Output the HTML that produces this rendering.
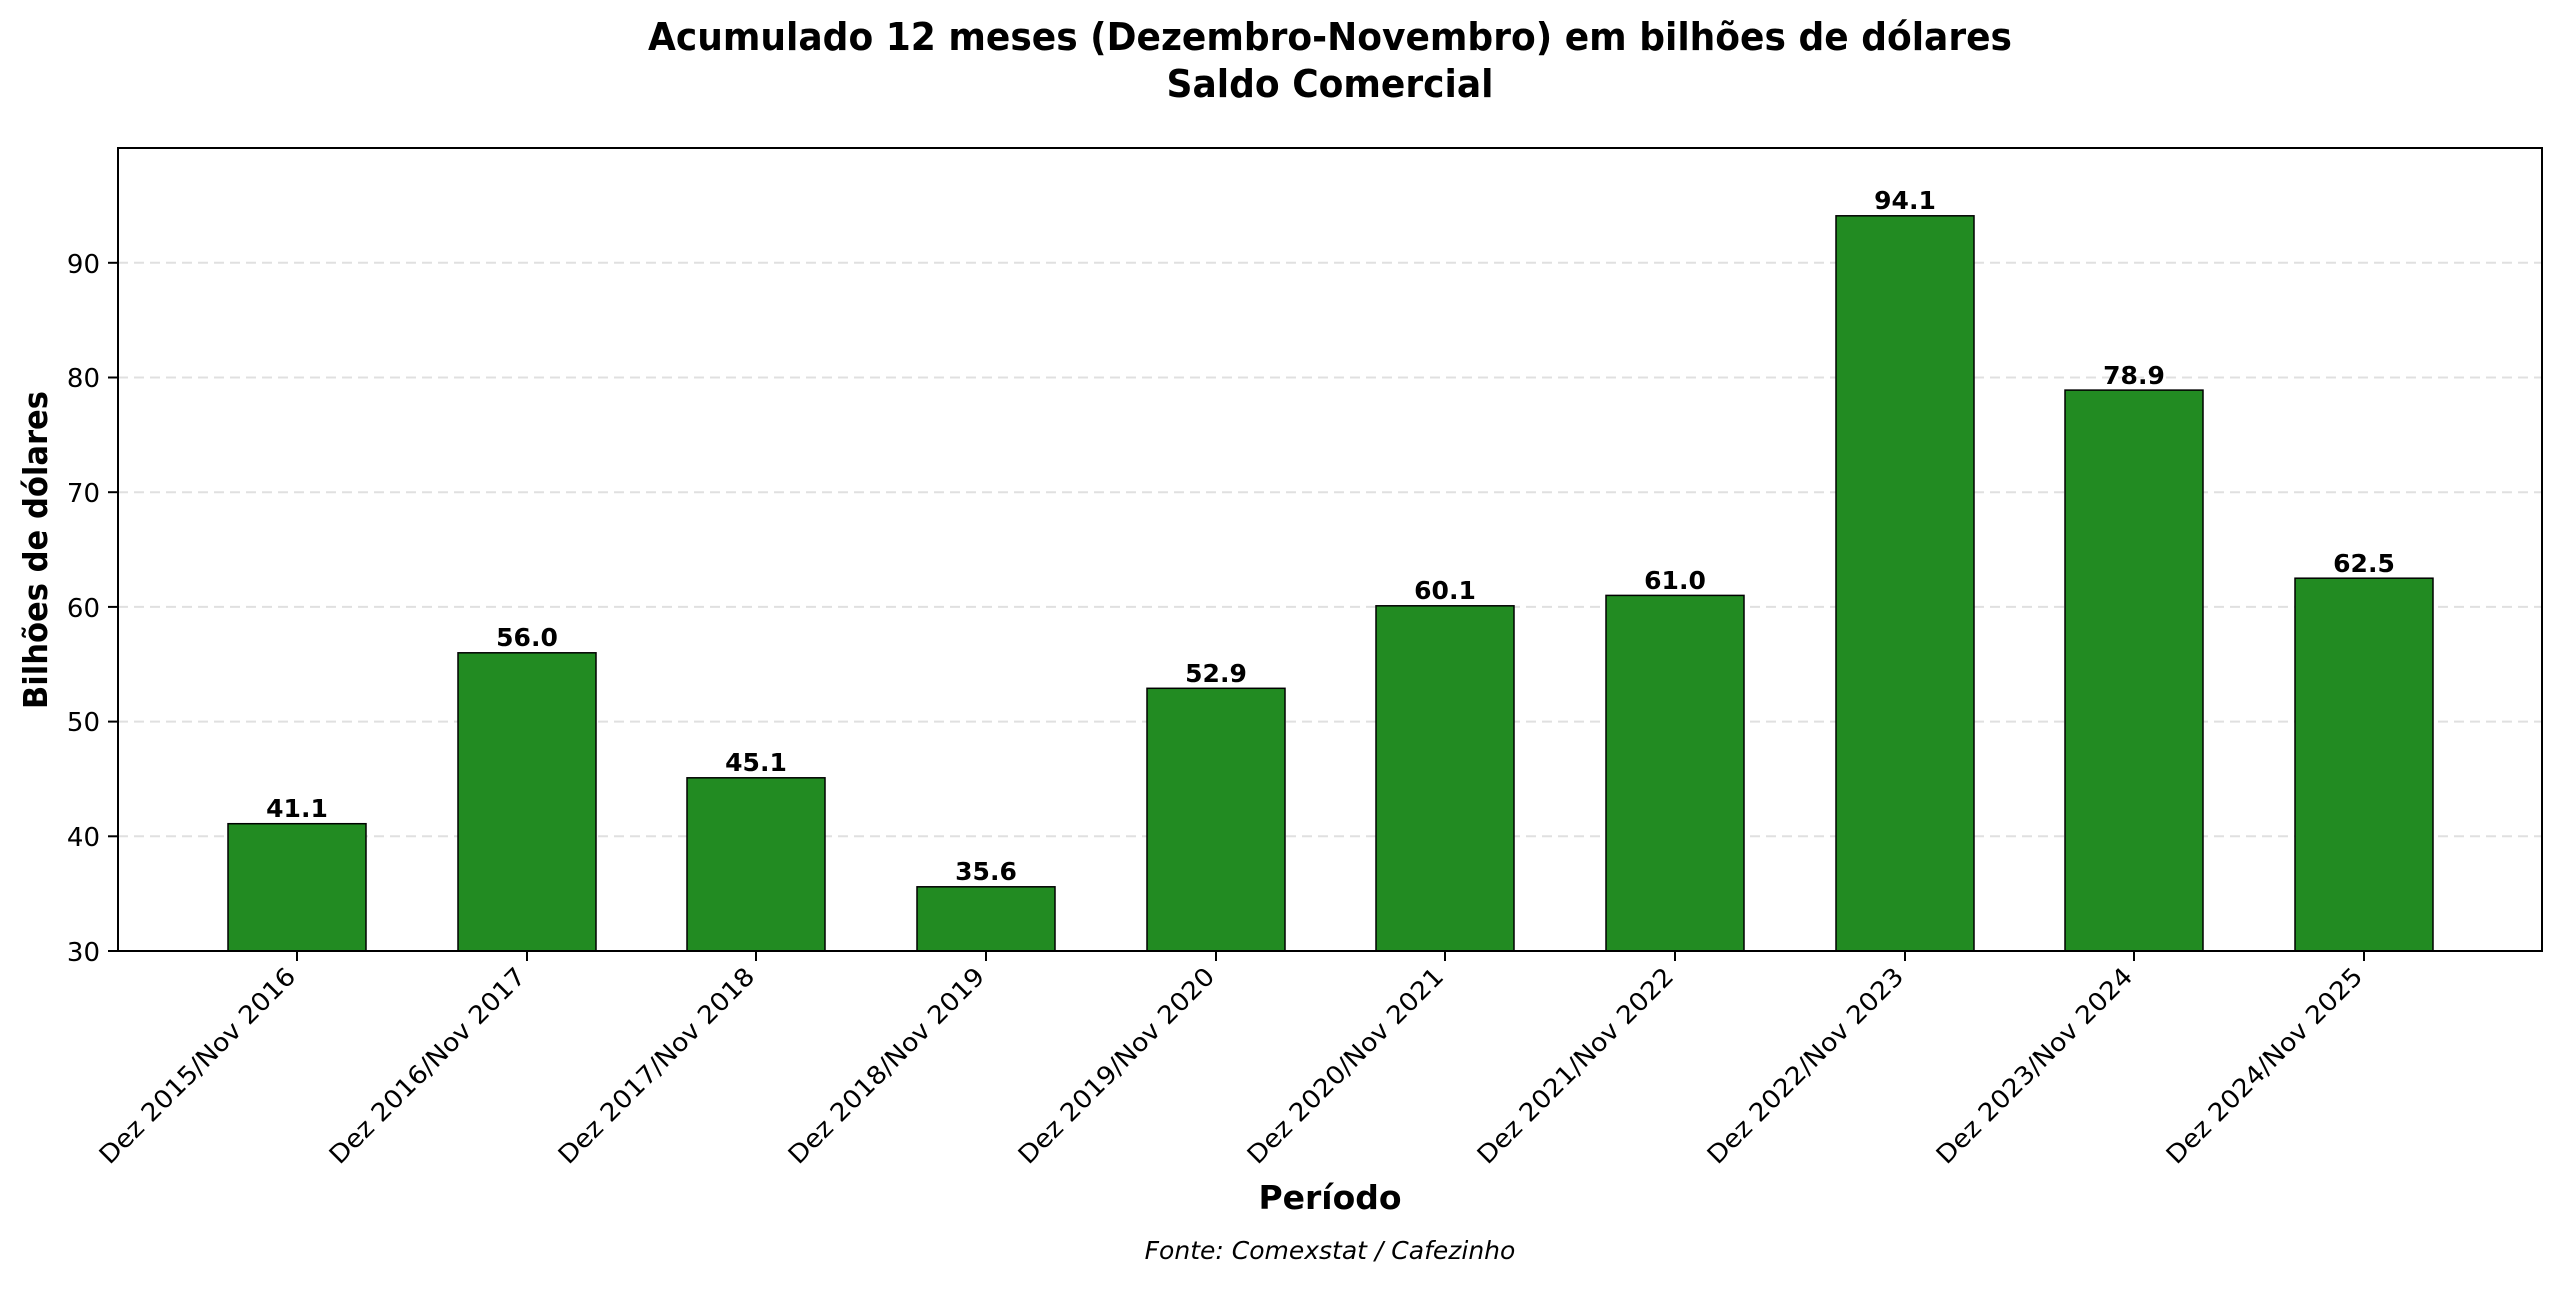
<!DOCTYPE html>
<html><head><meta charset="utf-8"><style>body{margin:0;background:#fff}</style></head><body>
<svg width="2560" height="1284" xmlns="http://www.w3.org/2000/svg" font-family="'DejaVu Sans','Liberation Sans',sans-serif">
<rect width="2560" height="1284" fill="#fff"/>
<text x="1330" y="50" font-size="38" font-weight="bold" text-anchor="middle" textLength="1364" lengthAdjust="spacingAndGlyphs">Acumulado 12 meses (Dezembro-Novembro) em bilhões de dólares</text>
<text x="1330" y="97" font-size="38" font-weight="bold" text-anchor="middle" textLength="327" lengthAdjust="spacingAndGlyphs">Saldo Comercial</text>
<g stroke="#e0e0e0" stroke-width="2" stroke-dasharray="10,6">
<line x1="118" x2="2542" y1="836.3" y2="836.3"/><line x1="118" x2="2542" y1="721.6" y2="721.6"/><line x1="118" x2="2542" y1="606.9" y2="606.9"/><line x1="118" x2="2542" y1="492.2" y2="492.2"/><line x1="118" x2="2542" y1="377.5" y2="377.5"/><line x1="118" x2="2542" y1="262.8" y2="262.8"/>
</g>
<g fill="#228B22" stroke="#000" stroke-width="1.5">
<rect x="228" y="823.7" width="138" height="127.3"/>
<rect x="458" y="652.8" width="138" height="298.2"/>
<rect x="687" y="777.8" width="138" height="173.2"/>
<rect x="917" y="886.8" width="138" height="64.2"/>
<rect x="1147" y="688.3" width="138" height="262.7"/>
<rect x="1376" y="605.8" width="138" height="345.2"/>
<rect x="1606" y="595.4" width="138" height="355.6"/>
<rect x="1836" y="215.8" width="138" height="735.2"/>
<rect x="2065" y="390.1" width="138" height="560.9"/>
<rect x="2295" y="578.2" width="138" height="372.8"/>
</g>
<g font-size="25" font-weight="bold" text-anchor="middle">
<text x="297" y="817">41.1</text><text x="527" y="646">56.0</text><text x="756" y="771">45.1</text><text x="986" y="880">35.6</text><text x="1216" y="682">52.9</text><text x="1445" y="599">60.1</text><text x="1675" y="589">61.0</text><text x="1905" y="209">94.1</text><text x="2134" y="384">78.9</text><text x="2364" y="572">62.5</text>
</g>
<rect x="118" y="148" width="2424" height="803" fill="none" stroke="#000" stroke-width="2"/>
<g stroke="#000" stroke-width="2">
<line x1="108" x2="118" y1="951" y2="951"/><line x1="108" x2="118" y1="836.3" y2="836.3"/><line x1="108" x2="118" y1="721.6" y2="721.6"/><line x1="108" x2="118" y1="606.9" y2="606.9"/><line x1="108" x2="118" y1="492.2" y2="492.2"/><line x1="108" x2="118" y1="377.5" y2="377.5"/><line x1="108" x2="118" y1="262.8" y2="262.8"/>
<line x1="297" x2="297" y1="951" y2="961"/><line x1="527" x2="527" y1="951" y2="961"/><line x1="756" x2="756" y1="951" y2="961"/><line x1="986" x2="986" y1="951" y2="961"/><line x1="1216" x2="1216" y1="951" y2="961"/><line x1="1445" x2="1445" y1="951" y2="961"/><line x1="1675" x2="1675" y1="951" y2="961"/><line x1="1905" x2="1905" y1="951" y2="961"/><line x1="2134" x2="2134" y1="951" y2="961"/><line x1="2364" x2="2364" y1="951" y2="961"/>
</g>
<g font-size="26" text-anchor="end">
<text x="100" y="961">30</text><text x="100" y="846">40</text><text x="100" y="731">50</text><text x="100" y="617">60</text><text x="100" y="502">70</text><text x="100" y="387">80</text><text x="100" y="273">90</text>
</g>
<g font-size="25" text-anchor="end">
<text transform="translate(297,978) rotate(-45)" textLength="265" lengthAdjust="spacingAndGlyphs">Dez 2015/Nov 2016</text>
<text transform="translate(527,978) rotate(-45)" textLength="265" lengthAdjust="spacingAndGlyphs">Dez 2016/Nov 2017</text>
<text transform="translate(756,978) rotate(-45)" textLength="265" lengthAdjust="spacingAndGlyphs">Dez 2017/Nov 2018</text>
<text transform="translate(986,978) rotate(-45)" textLength="265" lengthAdjust="spacingAndGlyphs">Dez 2018/Nov 2019</text>
<text transform="translate(1216,978) rotate(-45)" textLength="265" lengthAdjust="spacingAndGlyphs">Dez 2019/Nov 2020</text>
<text transform="translate(1445,978) rotate(-45)" textLength="265" lengthAdjust="spacingAndGlyphs">Dez 2020/Nov 2021</text>
<text transform="translate(1675,978) rotate(-45)" textLength="265" lengthAdjust="spacingAndGlyphs">Dez 2021/Nov 2022</text>
<text transform="translate(1905,978) rotate(-45)" textLength="265" lengthAdjust="spacingAndGlyphs">Dez 2022/Nov 2023</text>
<text transform="translate(2134,978) rotate(-45)" textLength="265" lengthAdjust="spacingAndGlyphs">Dez 2023/Nov 2024</text>
<text transform="translate(2364,978) rotate(-45)" textLength="265" lengthAdjust="spacingAndGlyphs">Dez 2024/Nov 2025</text>
</g>
<text transform="translate(47,550) rotate(-90)" font-size="33" font-weight="bold" text-anchor="middle" textLength="318" lengthAdjust="spacingAndGlyphs">Bilhões de dólares</text>
<text x="1330" y="1209" font-size="33" font-weight="bold" text-anchor="middle">Período</text>
<text x="1330" y="1259" font-size="25" font-style="italic" text-anchor="middle">Fonte: Comexstat / Cafezinho</text>
</svg>
</body></html>
